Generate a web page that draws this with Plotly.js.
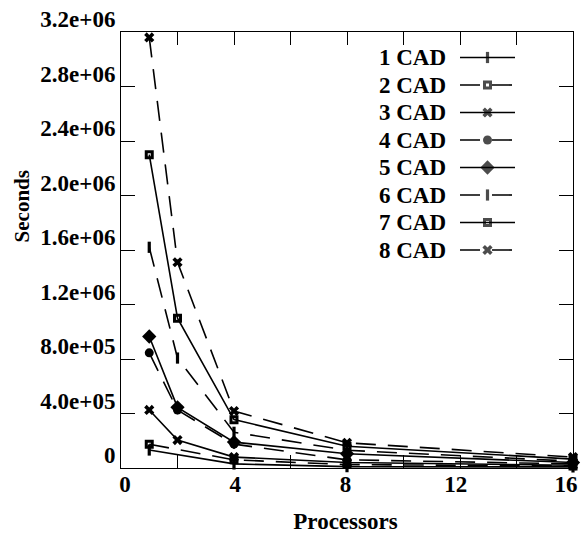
<!DOCTYPE html>
<html><head><meta charset="utf-8">
<script src="https://cdn.plot.ly/plotly-3.0.1.min.js"></script>
<style>html,body{margin:0;padding:0;background:#fff}#chart{width:581px;height:534px}</style>
</head><body><div id="chart"></div>
<script>
// ---- data ----
const processors = [1, 2, 4, 8, 16];
const processorsNoTwo = [1, 4, 8, 16];
const seriesNames = ['1 CAD', '2 CAD', '3 CAD', '4 CAD', '5 CAD', '6 CAD', '7 CAD', '8 CAD'];
const cad1 = [1.32e5, 3.0e4, 1.0e4, 8.0e3];
const cad2 = [1.74e5, 6.0e4, 2.5e4, 1.5e4];
const cad3 = [4.26e5, 2.05e5, 8.0e4, 4.0e4, 2.0e4];
const cad4 = [8.45e5, 4.25e5, 1.75e5, 6.0e4, 3.0e4];
const cad5 = [9.65e5, 4.45e5, 1.90e5, 1.05e5, 4.0e4];
const cad6 = [1.62e6, 8.07e5, 2.62e5, 1.30e5, 5.0e4];
const cad7 = [2.30e6, 1.10e6, 3.55e5, 1.60e5, 6.5e4];
const cad8 = [3.16e6, 1.51e6, 4.18e5, 1.85e5, 8.0e4];
const yTickVals = [0, 4e5, 8e5, 1.2e6, 1.6e6, 2.0e6, 2.4e6, 2.8e6, 3.2e6];
const yTickText = ['0', '4.0e+05', '8.0e+05', '1.2e+06', '1.6e+06', '2.0e+06', '2.4e+06', '2.8e+06', '3.2e+06'];
const xTickVals = [0, 2, 4, 6, 8, 10, 12, 14, 16];
const xLabelVals = [0, 4, 8, 12, 16];
const xLabelText = ['0', '4', '8', '12', '16'];
const xTitle = 'Processors';
const yTitle = 'Seconds';

// ---- styles ----
const xs = [processorsNoTwo, processorsNoTwo, processors, processors, processors, processors, processors, processors];
const ys = [cad1, cad2, cad3, cad4, cad5, cad6, cad7, cad8];
const DASH = '20px,12px';
const dashes = ['solid', DASH, 'solid', DASH, 'solid', DASH, 'solid', DASH];
const markers = [
  {symbol: 'line-ns', size: 8, line: {width: 3.2, color: 'black'}},
  {symbol: 'square-open', size: 6, line: {width: 3, color: 'black'}},
  {symbol: 'x', size: 9, line: {width: 0}},
  {symbol: 'circle', size: 9, line: {width: 0}},
  {symbol: 'diamond', size: 11, line: {width: 0}},
  {symbol: 'line-ns', size: 8, line: {width: 3.2, color: 'black'}},
  {symbol: 'square-open', size: 6, line: {width: 3, color: 'black'}},
  {symbol: 'x', size: 9, line: {width: 0}}
];

const FONT = 'Liberation Serif, Times New Roman, serif';
const traces = [];
const annotations = [];
const legTop = 57.5, legStep = 27.5;
// carrier trace for the tick-label axis (drawn first, invisible)
traces.push({type: 'scatter', mode: 'none', x: [0, 16], y: [0, 0], xaxis: 'x3', yaxis: 'y', showlegend: false, hoverinfo: 'skip'});
for (let i = 0; i < seriesNames.length; i++) {
  traces.push({
    type: 'scatter', mode: 'lines+markers', name: seriesNames[i],
    x: xs[i], y: ys[i], cliponaxis: false,
    line: {color: 'black', width: 1.6, dash: dashes[i]},
    marker: Object.assign({color: 'black'}, markers[i]),
    showlegend: false
  });
  const ly = legTop + i * legStep;
  const solid = dashes[i] === 'solid';
  traces.push({
    type: 'scatter', mode: 'lines+markers', xaxis: 'x2', yaxis: 'y2',
    x: [460, 487.5, solid ? 515 : 513], y: [ly, ly, ly], cliponaxis: false,
    line: {color: 'black', width: 1.6, dash: dashes[i]},
    marker: Object.assign({color: 'black'}, markers[i], {size: [0, markers[i].size, 0]}),
    showlegend: false, hoverinfo: 'skip'
  });
  annotations.push({
    xref: 'x2', yref: 'y2', x: 448, y: ly, xanchor: 'right', yanchor: 'middle',
    text: seriesNames[i], showarrow: false,
    font: {family: FONT, size: 23, color: 'black', weight: 'bold'}
  });
}

annotations.push({
  xref: 'paper', yref: 'paper', x: -0.219, y: 0.6, xanchor: 'center', yanchor: 'middle',
  text: yTitle, textangle: -90, showarrow: false,
  font: {family: FONT, size: 21, color: 'black', weight: 'bold'}
});

const layout = {
  width: 581, height: 534,
  margin: {l: 121, r: 8, t: 32, b: 66},
  paper_bgcolor: 'white', plot_bgcolor: 'rgba(0,0,0,0)',
  font: {family: FONT, size: 23, color: 'black', weight: 'bold'},
  showlegend: false,
  xaxis: {
    range: [0, 16], tickvals: xTickVals, showticklabels: false,
    ticks: 'inside', ticklen: 13, tickcolor: 'black', tickwidth: 1,
    showline: true, linecolor: 'black', linewidth: 1, mirror: 'ticks',
    showgrid: false, zeroline: false
  },
  xaxis3: {
    domain: [0.0088, 0.9845], anchor: 'free', position: 0,
    range: [0, 16], tickvals: xLabelVals, ticktext: xLabelText,
    ticks: '', showline: false, showgrid: false, zeroline: false, ticklabeloverflow: 'allow',
    tickfont: {family: FONT, size: 23, weight: 'bold'},
    title: {text: xTitle, standoff: 18, font: {family: FONT, size: 23, weight: 'bold'}}
  },
  yaxis: {
    range: [0, 3.2e6], tickvals: yTickVals, ticktext: yTickText,
    ticks: 'inside', ticklen: 14, tickcolor: 'black', tickwidth: 1,
    showline: true, linecolor: 'black', linewidth: 1, mirror: 'ticks',
    showgrid: false, zeroline: false, ticklabelshift: -13, ticklabeloverflow: 'allow',
    tickfont: {family: FONT, size: 23, weight: 'bold'}
  },
  xaxis2: {overlaying: 'x', anchor: 'y2', range: [121, 573], visible: false, fixedrange: true},
  yaxis2: {overlaying: 'y', anchor: 'x2', range: [468, 32], visible: false, fixedrange: true},
  annotations: annotations
};

Plotly.newPlot('chart', traces, layout, {staticPlot: true, displayModeBar: false});
</script>
</body></html>
